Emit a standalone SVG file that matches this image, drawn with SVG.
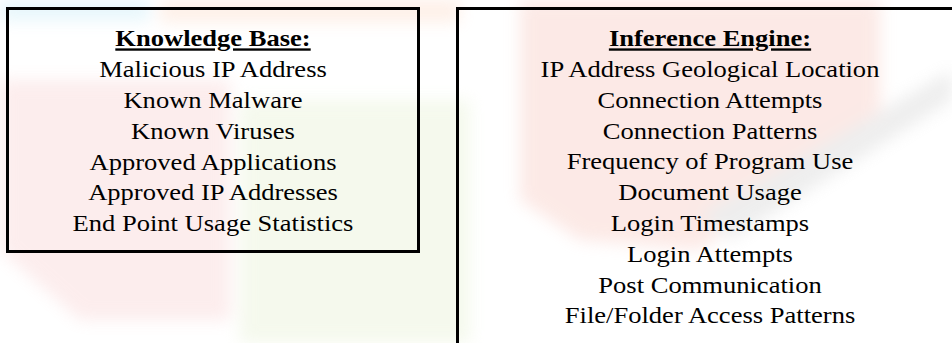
<svg xmlns="http://www.w3.org/2000/svg" width="952" height="343" viewBox="0 0 952 343">
  <style>
    .box { fill: none; stroke: #000; stroke-width: 3; }
    .t { font-family: 'Liberation Serif', 'DejaVu Serif', serif; font-size: 23.5px; fill: #000; text-anchor: middle; }
    .h { font-weight: bold; text-decoration: underline; }
  </style>
  <defs>
    <filter id="soft" x="-20%" y="-20%" width="140%" height="140%">
      <feGaussianBlur stdDeviation="8"/>
    </filter>
  </defs>
  <rect width="952" height="343" fill="#fff"/>
  <g id="watermark" filter="url(#soft)" opacity="0.35">
    <rect x="0" y="0" width="150" height="20" fill="#b8e6f5"/>
    <rect x="160" y="0" width="300" height="22" fill="#fcd3bb"/>
    <polygon points="0,80 230,80 230,320 80,320 0,250" fill="#f8cccc"/>
    <polygon points="240,100 470,100 470,343 240,343" fill="#e3efcc"/>
    <polygon points="520,0 880,0 880,110 700,250 580,240 520,200" fill="#f7c2b8"/>
    <polygon points="700,215 952,70 952,100 730,240" fill="#cfcfcf"/>
  </g>
  <g id="knowledge-base" font-family="Liberation Serif, serif">
    <rect class="box" x="7.5" y="8.5" width="411" height="243"/>
    <g transform="translate(213,0) scale(1.13,1)">
      <text class="t h" x="0" y="46.5">Knowledge Base:</text>
      <text class="t" x="0" y="77">Malicious IP Address</text>
      <text class="t" x="0" y="108">Known Malware</text>
      <text class="t" x="0" y="138.8">Known Viruses</text>
      <text class="t" x="0" y="169.6">Approved Applications</text>
      <text class="t" x="0" y="200.5">Approved IP Addresses</text>
      <text class="t" x="0" y="231.4">End Point Usage Statistics</text>
    </g>
  </g>
  <g id="inference-engine" font-family="Liberation Serif, serif">
    <rect class="box" x="457.5" y="8.5" width="520" height="360"/>
    <g transform="translate(710,0) scale(1.13,1)">
      <text class="t h" x="0" y="46.5">Inference Engine:</text>
      <text class="t" x="0" y="77">IP Address Geological Location</text>
      <text class="t" x="0" y="107.8">Connection Attempts</text>
      <text class="t" x="0" y="138.6">Connection Patterns</text>
      <text class="t" x="0" y="169.4">Frequency of Program Use</text>
      <text class="t" x="0" y="200.2">Document Usage</text>
      <text class="t" x="0" y="231">Login Timestamps</text>
      <text class="t" x="0" y="261.8">Login Attempts</text>
      <text class="t" x="0" y="292.6">Post Communication</text>
      <text class="t" x="0" y="323.4">File/Folder Access Patterns</text>
    </g>
  </g>
  <g id="connectors"/>
</svg>
